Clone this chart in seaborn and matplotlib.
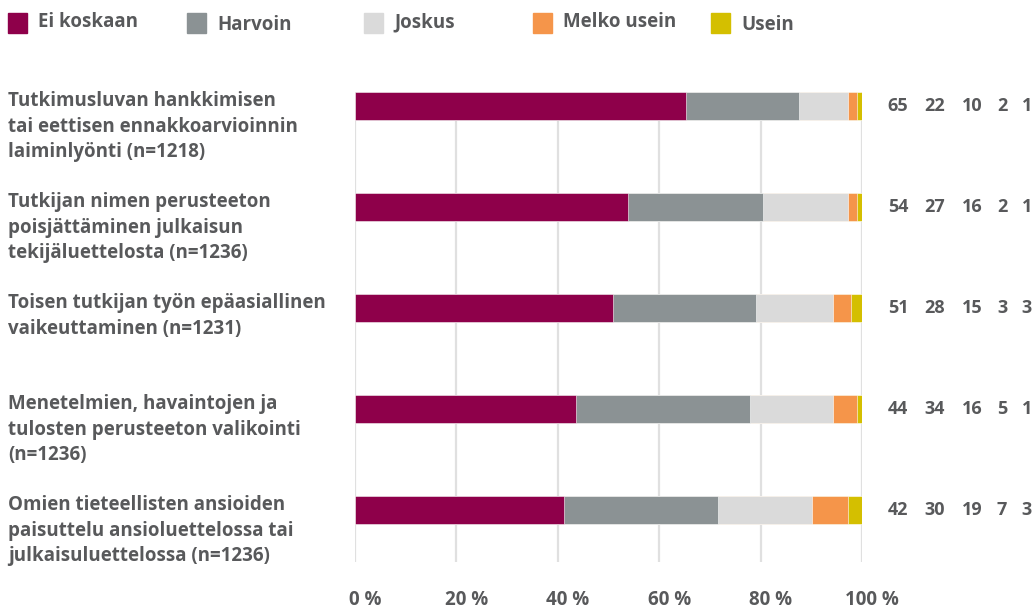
import matplotlib
matplotlib.use('Agg')
import matplotlib.pyplot as plt
import matplotlib.transforms as mtransforms
from matplotlib.patches import Rectangle
import numpy as np
import pandas as pd
import seaborn as sns

# data
kategoriat = [
    'Tutkimusluvan hankkimisen\ntai eettisen ennakkoarvioinnin\nlaiminlyönti (n=1218)',
    'Tutkijan nimen perusteeton\npoisjättäminen julkaisun\ntekijäluettelosta (n=1236)',
    'Toisen tutkijan työn epäasiallinen\nvaikeuttaminen (n=1231)',
    'Menetelmien, havaintojen ja\ntulosten perusteeton valikointi\n(n=1236)',
    'Omien tieteellisten ansioiden\npaisuttelu ansioluettelossa tai\njulkaisuluettelossa (n=1236)',
]
sarjat = ['Ei koskaan', 'Harvoin', 'Joskus', 'Melko usein', 'Usein']
ei_koskaan = [65.3, 53.9, 50.9, 43.6, 41.2]
harvoin = [22.2, 26.5, 28.2, 34.3, 30.3]
joskus = [9.7, 16.8, 15.2, 16.4, 18.6]
melko_usein = [1.8, 1.8, 3.5, 4.7, 7.1]
usein = [1.0, 1.0, 2.2, 1.0, 2.8]
# rounded numbers printed right of the bars
luvut = [
    [65, 22, 10, 2, 1],
    [54, 27, 16, 2, 1],
    [51, 28, 15, 3, 3],
    [44, 34, 16, 5, 1],
    [42, 30, 19, 7, 3],
]
x_tikit = [0, 20, 40, 60, 80, 100]

varit = ['#8E004A', '#8B9294', '#DADADA', '#F5954A', '#D4BF00']
tekstivari = '#58595B'

sns.set_style('white')
plt.rcParams['font.family'] = ['Open Sans', 'DejaVu Sans']
plt.rcParams['font.weight'] = 'bold'

fig = plt.figure(figsize=(10.35, 6.08), dpi=100)
ax = fig.add_axes([355 / 1035, 1 - 562 / 608, 507 / 1035, 470 / 608])

df = pd.DataFrame({'kategoria': kategoriat, 'Ei koskaan': ei_koskaan, 'Harvoin': harvoin,
                   'Joskus': joskus, 'Melko usein': melko_usein, 'Usein': usein})
kumul = df[sarjat].cumsum(axis=1)

# stacked bars: draw cumulative totals from the longest down
for i in range(len(sarjat) - 1, -1, -1):
    sns.barplot(x=kumul[sarjat[i]], y=df['kategoria'], orient='h', color=varit[i],
                width=0.28, edgecolor='white', linewidth=0.4, ax=ax, saturation=1)

ax.set_xlim(0, 100)
ax.set_ylim(4.515, -0.139)
ax.set_xticks(x_tikit)
ax.set_xticklabels([])
ax.tick_params(axis='x', length=0)
ax.set_yticks([])
ax.set_xlabel('')
ax.set_ylabel('')
ax.grid(axis='x', color='#E0E0E0', linewidth=1.6)
ax.set_axisbelow(True)
for s in ax.spines.values():
    s.set_visible(False)

# x tick labels sit a little right of the grid lines
siirto = mtransforms.ScaledTranslation(10 / 100, 0, fig.dpi_scale_trans)
tr_x = mtransforms.blended_transform_factory(ax.transData, ax.transAxes) + siirto
for t in x_tikit:
    ax.text(t, -38 / 470, f'{t} %', transform=tr_x, ha='center', va='center',
            fontsize=13.5, fontweight='bold', color=tekstivari, clip_on=False)

# category labels on the left
tr = mtransforms.blended_transform_factory(fig.transFigure, ax.transData)
for i, k in enumerate(kategoriat):
    ax.text(8 / 1035, i - 0.15, k, transform=tr, ha='left', va='top', fontsize=13.5,
            fontweight='bold', color=tekstivari, linespacing=1.38)

# numbers to the right
sarake_x = [898, 935, 972, 1002, 1027]
for i, rivi in enumerate(luvut):
    for j, v in enumerate(rivi):
        ax.text(sarake_x[j] / 1035, i, str(v), transform=tr, ha='center', va='center',
                fontsize=13, fontweight='bold', color=tekstivari)

# legend at the top
ruutu_x = [8, 187, 364, 533, 711]
teksti_y = [22, 25, 22, 22, 25]
for j, nimi in enumerate(sarjat):
    fig.patches.append(Rectangle((ruutu_x[j] / 1035, 1 - 33 / 608), 19 / 1035, 20 / 608,
                                 transform=fig.transFigure, color=varit[j], figure=fig))
    fig.text((ruutu_x[j] + 30) / 1035, 1 - teksti_y[j] / 608, nimi, ha='left', va='center',
             fontsize=13.5, fontweight='bold', color=tekstivari)

fig.savefig('out.png', dpi=100)
